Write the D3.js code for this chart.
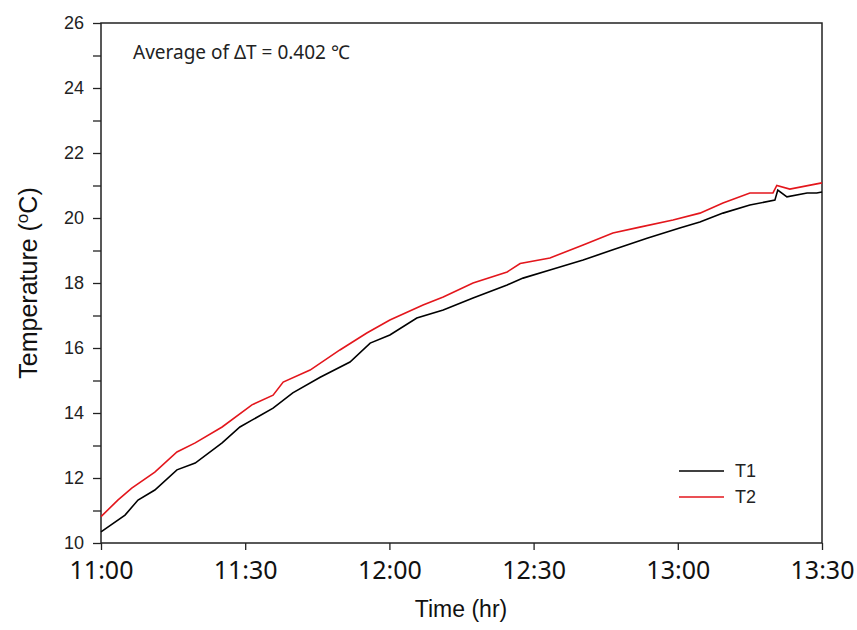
<!DOCTYPE html>
<html>
<head>
<meta charset="utf-8">
<script src="https://cdn.jsdelivr.net/npm/d3@7"></script>
<style>
  body { margin: 0; background: #fff; }
  svg { display: block; }
</style>
</head>
<body>
<svg width="857" height="630"></svg>
<script>
// minutes after 11:00, readings
const t1Minutes = [0, 5.0, 7.7, 11.2, 15.8, 19.6, 25.2, 28.9, 31.4, 35.8, 39.9, 45.6, 51.8, 56.0, 60.1, 65.7, 71.2, 77.4, 84.5, 87.8, 93.4, 100.3, 106.5, 113.6, 120.4, 124.6, 129.4, 135.0, 140.2, 140.8, 142.7, 146.9, 148.9, 150];
const t1Values = [10.34, 10.86, 11.32, 11.63, 12.25, 12.46, 13.08, 13.57, 13.78, 14.15, 14.62, 15.1, 15.57, 16.15, 16.4, 16.92, 17.17, 17.54, 17.94, 18.15, 18.4, 18.71, 19.02, 19.38, 19.69, 19.88, 20.15, 20.4, 20.55, 20.86, 20.65, 20.77, 20.77, 20.8];

const t2Minutes = [0, 3.5, 6.4, 11.2, 15.8, 19.6, 25.2, 31.4, 35.8, 37.9, 43.5, 49.7, 55.3, 60.1, 67.0, 71.2, 77.4, 84.5, 87.2, 93.4, 100.3, 106.5, 112.1, 119.0, 124.6, 129.4, 135.0, 139.8, 140.6, 143.3, 148.9, 150];
const t2Values = [10.81, 11.32, 11.69, 12.18, 12.8, 13.08, 13.57, 14.25, 14.55, 14.95, 15.32, 15.94, 16.46, 16.86, 17.32, 17.57, 18.0, 18.34, 18.6, 18.77, 19.17, 19.54, 19.72, 19.94, 20.15, 20.46, 20.77, 20.77, 21.0, 20.89, 21.05, 21.08];

const xTickMinutes = [0, 30, 60, 90, 120, 150];
const xTickLabels = ['11:00', '11:30', '12:00', '12:30', '13:00', '13:30'];
const yMajorTicks = [10, 12, 14, 16, 18, 20, 22, 24, 26];
const yMinorTicks = [11, 13, 15, 17, 19, 21, 23, 25];

const seriesNames = ['T1', 'T2'];
const seriesColors = ['#000000', '#e3161c'];

const sansFont = "'Liberation Sans', Arial, sans-serif";
const roundFont = "'Noto Sans', 'Open Sans', sans-serif";

var svg = d3.select('svg');
const plotLeft = 101, plotRight = 822, plotTop = 23, plotBottom = 543;

const x = d3.scaleLinear().domain([0, 150]).range([plotLeft, plotRight]);
const y = d3.scaleLinear().domain([10, 26]).range([plotBottom, plotTop]);

// frame
svg.append('rect')
  .attr('x', plotLeft).attr('y', plotTop)
  .attr('width', plotRight - plotLeft).attr('height', plotBottom - plotTop)
  .attr('fill', 'none').attr('stroke', '#222').attr('stroke-width', 1.5);

// y axis
const yAxis = svg.append('g')
  .attr('transform', `translate(${plotLeft},0)`)
  .call(d3.axisLeft(y).tickValues(yMajorTicks).tickSize(8).tickPadding(9).tickFormat(d3.format('d')));
yAxis.select('.domain').remove();
yAxis.selectAll('line').attr('stroke', '#222').attr('stroke-width', 1.3);
yAxis.selectAll('text')
  .style('font-family', sansFont)
  .attr('font-size', 18).attr('fill', '#222');

const yMinor = svg.append('g')
  .attr('transform', `translate(${plotLeft},0)`)
  .call(d3.axisLeft(y).tickValues(yMinorTicks).tickSize(8).tickFormat(''));
yMinor.select('.domain').remove();
yMinor.selectAll('line').attr('stroke', '#222').attr('stroke-width', 1.3);

// x axis
const xAxis = svg.append('g')
  .attr('transform', `translate(0,${plotBottom})`)
  .call(d3.axisBottom(x).tickValues(xTickMinutes).tickSize(7).tickPadding(11)
    .tickFormat((d, i) => xTickLabels[i]));
xAxis.select('.domain').remove();
xAxis.selectAll('line').attr('stroke', '#222').attr('stroke-width', 1.3);
xAxis.selectAll('text')
  .style('font-family', roundFont)
  .attr('font-size', 25).attr('fill', '#111');

// lines
const line = d3.line()
  .x(d => x(d[0]))
  .y(d => y(d[1]));

const series = [
  d3.zip(t1Minutes, t1Values),
  d3.zip(t2Minutes, t2Values)
];

svg.selectAll('path.series')
  .data(series)
  .enter().append('path')
  .attr('class', 'series')
  .attr('d', line)
  .attr('fill', 'none')
  .attr('stroke', (d, i) => seriesColors[i])
  .attr('stroke-width', 1.6);

// annotation
svg.append('text')
  .attr('x', 133).attr('y', 59)
  .style('font-family', roundFont)
  .attr('font-size', 19).attr('fill', '#222')
  .text('Average of ΔT = 0.402 ℃');

// legend
const legend = svg.selectAll('g.legend')
  .data(seriesNames)
  .enter().append('g')
  .attr('class', 'legend')
  .attr('transform', (d, i) => `translate(679,${471 + i * 26})`);
legend.append('line')
  .attr('x1', 0).attr('x2', 45)
  .attr('stroke', (d, i) => seriesColors[i]).attr('stroke-width', 1.3);
legend.append('text')
  .attr('x', 56).attr('y', 6)
  .style('font-family', sansFont)
  .attr('font-size', 18).attr('fill', '#222')
  .text(d => d);

// axis titles
svg.append('text')
  .attr('x', 461).attr('y', 617)
  .attr('text-anchor', 'middle')
  .style('font-family', sansFont)
  .attr('font-size', 23).attr('fill', '#111')
  .text('Time (hr)');

const yTitle = svg.append('text')
  .attr('transform', 'translate(37,283) rotate(-90)')
  .attr('text-anchor', 'middle')
  .style('font-family', sansFont)
  .attr('font-size', 25).attr('fill', '#111');
yTitle.append('tspan').text('Temperature (');
yTitle.append('tspan').attr('dy', -9).attr('font-size', 17).text('o');
yTitle.append('tspan').attr('dy', 9).text('C)');
</script>
</body>
</html>
